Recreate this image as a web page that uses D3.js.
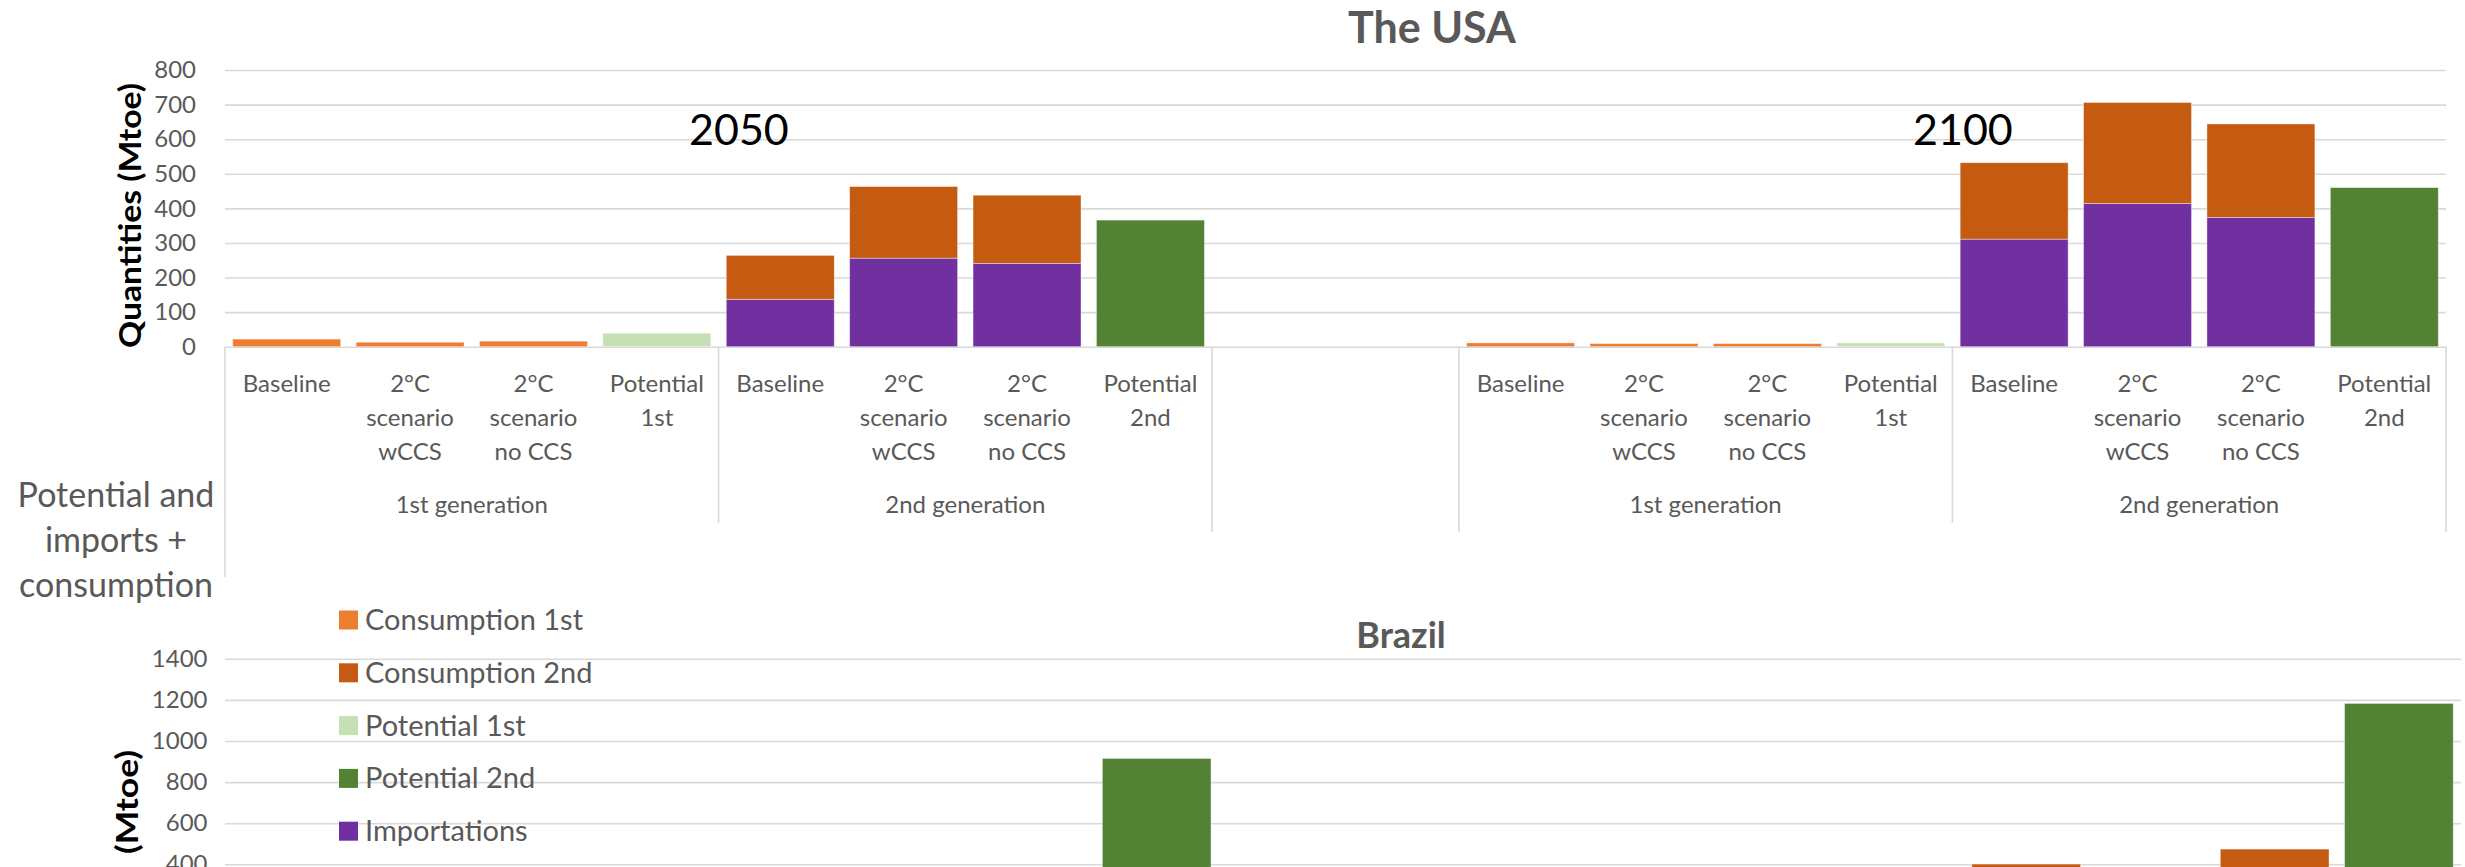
<!DOCTYPE html>
<html><head><meta charset="utf-8">
<script src="https://cdn.jsdelivr.net/npm/d3@7"></script>
<style>body{margin:0;background:#fff;overflow:hidden} text{font-family:Lato,'Open Sans',sans-serif}</style>
</head><body><script>
// ---------- data ----------
const years = ["2050", "2100"];
const generations = ["1st generation", "2nd generation"];
const scenarios = ["Baseline", "2°C scenario wCCS", "2°C scenario no CCS", "Potential 1st",
                   "Baseline", "2°C scenario wCCS", "2°C scenario no CCS", "Potential 2nd"];
const seriesNames = ["Consumption 1st", "Consumption 2nd", "Potential 1st", "Potential 2nd", "Importations"];
const seriesColors = ["#ED7D31", "#C55A11", "#C5E0B4", "#548235", "#7030A0"];
const stackOrder = ["Importations", "Potential 2nd", "Potential 1st", "Consumption 2nd", "Consumption 1st"];
const usaTicks = [0, 100, 200, 300, 400, 500, 600, 700, 800];
const brazilTicks = [0, 200, 400, 600, 800, 1000, 1200, 1400];
const sideNote = ["Potential and", "imports +", "consumption"];

// USA: 8 values for 2050, then 8 values for 2100 (Mtoe)
const usaConsumption1st = [22, 13, 16, 0, 0, 0, 0, 0,   11, 9, 9, 0, 0, 0, 0, 0];
const usaConsumption2nd = [0, 0, 0, 0, 127, 207, 197, 0,   0, 0, 0, 0, 221, 292, 270, 0];
const usaPotential1st   = [0, 0, 0, 39, 0, 0, 0, 0,   0, 0, 0, 11, 0, 0, 0, 0];
const usaPotential2nd   = [0, 0, 0, 0, 0, 0, 0, 366,   0, 0, 0, 0, 0, 0, 0, 460];
const usaImportations   = [0, 0, 0, 0, 137, 256, 241, 0,   0, 0, 0, 0, 311, 414, 374, 0];

// Brazil (only values above 400 are visible in the picture; others estimated)
const brazilConsumption1st = [30, 25, 26, 0, 0, 0, 0, 0,   35, 28, 30, 0, 0, 0, 0, 0];
const brazilConsumption2nd = [0, 0, 0, 0, 60, 150, 140, 0,   0, 0, 0, 0, 401, 360, 474, 0];
const brazilPotential1st   = [0, 0, 0, 70, 0, 0, 0, 0,   0, 0, 0, 80, 0, 0, 0, 0];
const brazilPotential2nd   = [0, 0, 0, 0, 0, 0, 0, 915,   0, 0, 0, 0, 0, 0, 0, 1183];
const brazilImportations   = [0, 0, 0, 0, 0, 0, 0, 0,   0, 0, 0, 0, 0, 0, 0, 0];

// ---------- layout ----------
const W = 2465, H = 867;
const svg = d3.select("body").append("svg").attr("width", W).attr("height", H);
const GRAY = "#595959", GRID = "#d9d9d9";
const colorOf = d3.scaleOrdinal().domain(seriesNames).range(seriesColors);

// slot keys: 8 for 2050, 2 empty, 8 for 2100
const slotKeys = [];
years.forEach((yr, yi) => {
  scenarios.forEach((s, i) => slotKeys.push(yr + "-" + i));
  if (yi === 0) { slotKeys.push("gap-a"); slotKeys.push("gap-b"); }
});

function buildRows(series) {
  return slotKeys.map(k => {
    const row = {key: k};
    const parts = k.split("-");
    const idx = parts[0] === "gap" ? -1 : years.indexOf(parts[0]) * 8 + (+parts[1]);
    seriesNames.forEach(n => row[n] = idx < 0 ? 0 : series[n][idx]);
    return row;
  });
}

function wrap(textSel, maxW, lineH) {
  textSel.each(function() {
    const t = d3.select(this);
    const words = t.text().split(" ");
    t.text(null);
    let line = [], tspan = t.append("tspan").attr("x", t.attr("x")).attr("dy", 0);
    words.forEach(w => {
      line.push(w);
      tspan.text(line.join(" "));
      if (tspan.node().getComputedTextLength() > maxW && line.length > 1) {
        line.pop(); tspan.text(line.join(" "));
        line = [w];
        tspan = t.append("tspan").attr("x", t.attr("x")).attr("dy", lineH).text(w);
      }
    });
  });
}

function drawChart(cfg) {
  const g = svg.append("g");
  const x = d3.scaleBand().domain(slotKeys).range([cfg.x0, cfg.x1]).paddingInner(0.125).paddingOuter(0.0625);
  const y = d3.scaleLinear().domain([0, cfg.max]).range([cfg.yBottom, cfg.yTop]);

  // gridlines + tick labels
  const ax = g.append("g").attr("transform", `translate(${cfg.x0},0)`)
    .call(d3.axisLeft(y).tickValues(cfg.ticks).tickFormat(d3.format("d"))
      .tickSize(-(cfg.x1 - cfg.x0)).tickPadding(cfg.tickPad));
  ax.select(".domain").remove();
  ax.selectAll(".tick line").attr("stroke", GRID).attr("stroke-width", 1.6);
  ax.selectAll(".tick text").attr("fill", GRAY).attr("font-size", 24).attr("font-family", "Lato,'Open Sans',sans-serif");

  // stacked bars
  const rows = buildRows(cfg.series);
  const layers = d3.stack().keys(stackOrder)(rows);
  g.append("g").selectAll("g").data(layers).join("g")
    .attr("fill", d => colorOf(d.key))
    .selectAll("rect").data(d => d.filter(v => v[1] - v[0] > 0)).join("rect")
    .attr("x", d => x(d.data.key))
    .attr("width", x.bandwidth())
    .attr("y", d => y(d[1]))
    .attr("height", d => y(d[0]) - y(d[1]))
    .attr("stroke", "#fff").attr("stroke-opacity", 0.5).attr("stroke-width", 0.8);

  // title
  g.append("text").attr("x", cfg.titleX).attr("y", cfg.titleY).attr("text-anchor", "middle")
    .attr("font-size", cfg.titleSize).attr("font-weight", "bold").attr("fill", GRAY).text(cfg.title);

  // y axis title
  g.append("text").attr("transform", `translate(${cfg.axisTitleX},${cfg.axisTitleY}) rotate(-90)`)
    .attr("text-anchor", cfg.axisTitleAnchor).attr("font-size", 30).attr("font-weight", "bold").attr("fill", "#000")
    .attr("textLength", cfg.axisTitleLen).attr("lengthAdjust", "spacingAndGlyphs")
    .text(cfg.axisTitle);

  return {x, y, g};
}

// ---------- USA ----------
const usa = drawChart({
  x0: 225, x1: 2446, yBottom: 346.7, yTop: 70, max: 800, ticks: usaTicks, tickPad: 29,
  series: {"Consumption 1st": usaConsumption1st, "Consumption 2nd": usaConsumption2nd,
           "Potential 1st": usaPotential1st, "Potential 2nd": usaPotential2nd, "Importations": usaImportations},
  title: "The USA", titleX: 1432, titleY: 43, titleSize: 43,
  axisTitle: "Quantities (Mtoe)", axisTitleAnchor: "middle", axisTitleLen: 265,
  axisTitleX: 141, axisTitleY: 215.5
});

// category axis (multi-level) for USA
{
  const x = usa.x, g = usa.g;
  const step = x.step(), x0 = 225;
  const catKeys = slotKeys.filter(k => !k.startsWith("gap"));
  g.append("g").selectAll("text").data(catKeys).join("text")
    .attr("x", k => x(k) + x.bandwidth() / 2).attr("y", 392)
    .attr("text-anchor", "middle").attr("font-size", 24).attr("fill", GRAY)
    .text(k => scenarios[+k.split("-")[1]])
    .call(wrap, 110, 34);

  // generation labels
  const genGroups = [];
  years.forEach(yr => generations.forEach((gen, gi) => genGroups.push({gen, first: yr + "-" + (gi * 4), last: yr + "-" + (gi * 4 + 3)})));
  g.append("g").selectAll("text").data(genGroups).join("text")
    .attr("x", d => (x(d.first) + x(d.last) + x.bandwidth()) / 2).attr("y", 513)
    .attr("text-anchor", "middle").attr("font-size", 24).attr("fill", GRAY).text(d => d.gen);

  // separators
  const seps = [{i: 0, y2: 577}, {i: 4, y2: 523}, {i: 8, y2: 532}, {i: 10, y2: 532}, {i: 14, y2: 523}, {i: 18, y2: 532}];
  g.append("g").selectAll("line").data(seps).join("line")
    .attr("x1", d => x0 + d.i * step).attr("x2", d => x0 + d.i * step)
    .attr("y1", 346.7).attr("y2", d => d.y2)
    .attr("stroke", GRID).attr("stroke-width", 1.6);

  // year annotations
  g.append("text").attr("x", 689).attr("y", 145).attr("font-size", 43).attr("fill", "#000").text(years[0]);
  g.append("text").attr("x", 1913).attr("y", 145).attr("font-size", 43).attr("fill", "#000").text(years[1]);
}

// side note
svg.append("text").attr("x", 116).attr("y", 507).attr("text-anchor", "middle")
  .attr("font-size", 34).attr("fill", GRAY)
  .selectAll("tspan").data(sideNote).join("tspan")
  .attr("x", 116).attr("dy", (d, i) => i === 0 ? 0 : 45).text(d => d);

// ---------- Brazil ----------
drawChart({
  x0: 225, x1: 2461, yBottom: 946.5, yTop: 658.8, max: 1400, ticks: brazilTicks, tickPad: 17.5,
  series: {"Consumption 1st": brazilConsumption1st, "Consumption 2nd": brazilConsumption2nd,
           "Potential 1st": brazilPotential1st, "Potential 2nd": brazilPotential2nd, "Importations": brazilImportations},
  title: "Brazil", titleX: 1401, titleY: 648, titleSize: 36,
  axisTitle: "(Mtoe)", axisTitleAnchor: "end", axisTitleLen: 104,
  axisTitleX: 138, axisTitleY: 750
});

// ---------- legend ----------
const leg = svg.append("g").selectAll("g").data(seriesNames).join("g")
  .attr("transform", (d, i) => `translate(339,${620 + i * 52.8})`);
leg.append("rect").attr("x", 0).attr("y", -9.5).attr("width", 19).attr("height", 19).attr("fill", d => colorOf(d));
leg.append("text").attr("x", 26).attr("y", 10).attr("font-size", 29).attr("fill", GRAY).text(d => d);
</script></body></html>
